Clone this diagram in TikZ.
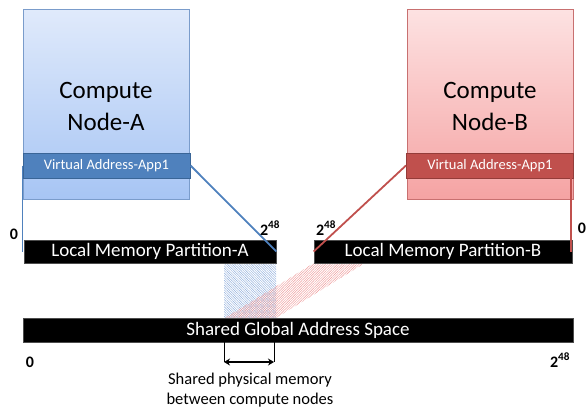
\documentclass[tikz,border=0pt]{standalone}
\usepackage{fontspec}
\setmainfont{Carlito}
\usetikzlibrary{patterns.meta,arrows.meta}
\definecolor{aTop}{HTML}{E0EAFB}
\definecolor{aBot}{HTML}{A7C5F4}
\definecolor{aBorder}{HTML}{7A9CCB}
\definecolor{aBar}{HTML}{4F81BD}
\definecolor{aBarBorder}{HTML}{3A6597}
\definecolor{bTop}{HTML}{FDE2E2}
\definecolor{bBot}{HTML}{F5A3A3}
\definecolor{bBorder}{HTML}{C87070}
\definecolor{bBar}{HTML}{C0504D}
\definecolor{bBarBorder}{HTML}{943C39}
\definecolor{aHatch}{HTML}{8FAEDC}
\definecolor{bHatch}{HTML}{EE9A9A}
\tikzset{
  computebox/.style={draw=#1Border, line width=0.8pt, top color=#1Top, bottom color=#1Bot,
    minimum width=166pt, minimum height=190pt, align=center, inner sep=0pt,
    font=\fontsize{25}{32}\selectfont},
  vbar/.style={draw=#1BarBorder, line width=1pt, fill=#1Bar, text=white,
    minimum width=167pt, minimum height=25pt, inner sep=0pt,
    font=\fontsize{14.5}{16}\selectfont},
  membar/.style={fill=black, draw=black!70, line width=0.6pt, text=white,
    minimum height=23pt, inner sep=0pt, font=\fontsize{19}{21}\selectfont},
  addr/.style={font=\bfseries\fontsize{16}{18}\selectfont, inner sep=0pt},
  mapA/.style={draw=aBar, line width=1.8pt},
  mapB/.style={draw=bBar, line width=1.8pt},
}
\begin{document}
\begin{tikzpicture}[x=1pt,y=-1pt]
\useasboundingbox (0,0) rectangle (587,407);
% hatched regions
\path[pattern={Lines[angle=-45,distance=1.7pt,line width=0.45pt]}, pattern color=aHatch]
  (224,263) rectangle (276,318);
\path[pattern={Lines[angle=45,distance=1.7pt,line width=0.45pt]}, pattern color=bHatch]
  (314,263) -- (365,263) -- (276,318) -- (225,318) -- cycle;
% compute nodes
\node[computebox=a] (nA) at (106,104) {};
\node[computebox=b] (nB) at (490,104) {};
\node[align=center, font=\fontsize{25}{32}\selectfont, inner sep=0pt] (tA) at (106,106) {Compute\\Node-A};
\node[align=center, font=\fontsize{25}{32}\selectfont, inner sep=0pt] (tB) at (490,106) {Compute\\Node-B};
\node[vbar=a] (vA) at (106.5,165.5) {Virtual Address-App1};
\node[vbar=b] (vB) at (490,165.5) {Virtual Address-App1};
% memory bars
\node[membar, minimum width=252pt] (lA) at (150,251.5) {Local Memory Partition-A};
\node[membar, minimum width=258pt] (lB) at (443,251.5) {Local Memory Partition-B};
\node[membar, minimum width=550pt, minimum height=24pt] (sG) at (298,330) {Shared Global Address Space};
% mapping lines
\draw[mapA] (vA.west) -- (vA.west |- lA.west);
\draw[mapA] (vA.east) -- (lA.east);
\draw[mapB] (vB.west) -- (lB.west);
\draw[mapB] ([xshift=-3pt]vB.east) -- ([xshift=-3pt]vB.east |- lB.east);
% address labels
\node[addr] (a0) at (14,234) {0};
\node[addr] (a48) at (270,228) {2\textsuperscript{48}};
\node[addr] (b48) at (326,228) {2\textsuperscript{48}};
\node[addr] (b0) at (582,228) {0};
\node[addr] (s0) at (30,362) {0};
\node[addr] (s48) at (560,360) {2\textsuperscript{48}};
% shared physical memory indicator
\coordinate (pL) at (224,342);
\coordinate (pR) at (274,342);
\coordinate (pLb) at (224,362);
\coordinate (pRb) at (274,362);
\draw[line width=0.8pt] (pL) -- (pLb);
\draw[line width=0.8pt] (pR) -- (pRb);
\draw[line width=1.8pt, {Stealth[length=6pt,width=7pt]}-{Stealth[length=6pt,width=7pt]}] (pLb) -- (pRb);
\node[align=center, font=\fontsize{16.5}{19.5}\selectfont, inner sep=0pt] (lbl) at (250,390)
  {Shared physical memory\\between compute nodes};
\end{tikzpicture}
\end{document}
